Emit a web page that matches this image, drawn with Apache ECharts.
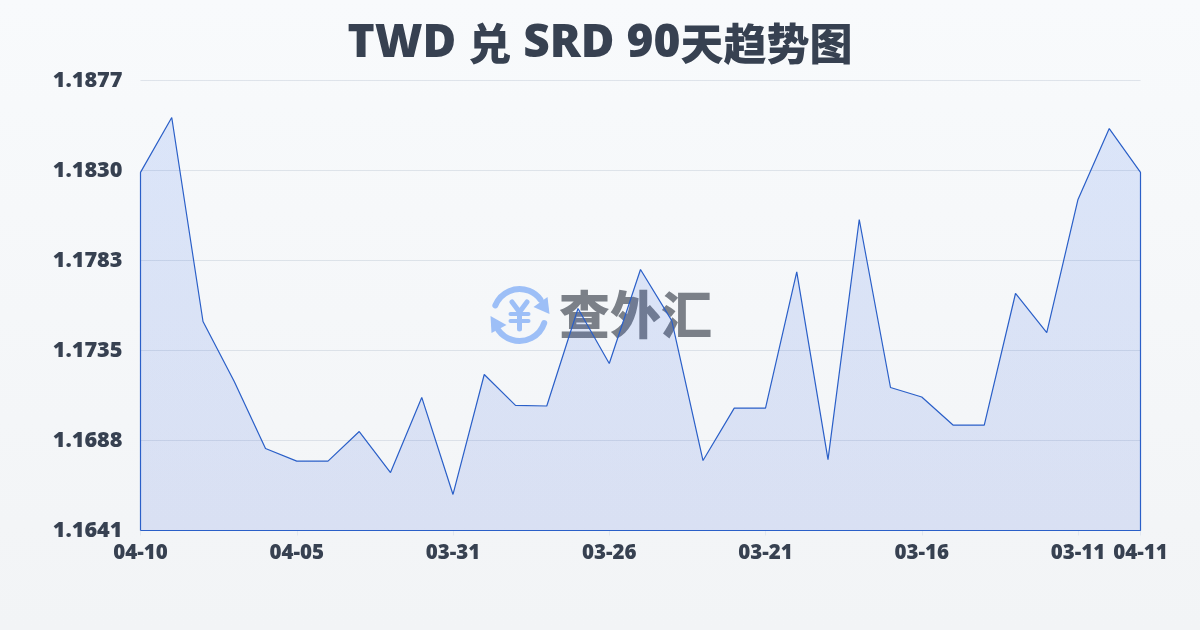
<!DOCTYPE html>
<html><head><meta charset="utf-8">
<style>html,body{margin:0;padding:0;width:1200px;height:630px;overflow:hidden}#c{width:1200px;height:630px}</style>
<script src="https://cdn.jsdelivr.net/npm/echarts@6/dist/echarts.min.js"></script></head>
<body><div id="c"></div><script>
const titleParts = [['a','TWD '],['b','兑'],['a',' SRD 90'],['b','天趋势图']];
const watermarkText = '查外汇';
const categories = ['04-10','04-09','04-08','04-07','04-06','04-05','04-04','04-03','04-02','04-01','03-31','03-30','03-29','03-28','03-27','03-26','03-25','03-24','03-23','03-22','03-21','03-20','03-19','03-18','03-17','03-16','03-15','03-14','03-13','03-12','03-11','03-10','04-11'];
const rates = [1.18288,1.18576,1.17506,1.17191,1.16840,1.16774,1.16774,1.16929,1.16714,1.17108,1.16599,1.17228,1.17066,1.17063,1.17574,1.17286,1.17779,1.17511,1.16777,1.17052,1.17052,1.17766,1.16782,1.18041,1.17160,1.17110,1.16963,1.16963,1.17653,1.17448,1.18146,1.18518,1.18288];
const yMin = 1.1641, yMax = 1.1877, yStep = 0.00472;
const labelIdx = [0,5,10,15,20,25,30,32];
const font = '"Open Sans","Noto Sans CJK SC",sans-serif';
const cjk = '"Noto Sans CJK SC",sans-serif';
const ink = '#374151';
const closed = [[0,yMin]].concat(rates.map((v,i)=>[i,v]),[[rates.length-1,yMin],[0,yMin]]);
const chart = echarts.init(document.getElementById('c'),null,{renderer:'canvas'});
const blue='#9dbff7';
chart.setOption({
  animation:false,
  backgroundColor:{type:'linear',x:0,y:0,x2:0,y2:1,colorStops:[{offset:0,color:'#f8fafc'},{offset:1,color:'#f2f4f6'}]},
  title:{text:titleParts.map(p=>'{'+p[0]+'|'+p[1]+'}').join(''),left:'center',top:16,textStyle:{rich:{
    a:{fontFamily:font,fontSize:46,fontWeight:800,color:ink},
    b:{fontFamily:cjk,fontSize:43,fontWeight:900,color:ink}}}},
  grid:{left:140.5,right:59.5,top:80.5,bottom:99.5},
  graphic:[
    {type:'group',x:519.5,y:315,z:0,silent:true,children:[
      {type:'arc',shape:{cx:0,cy:0,r:26,startAngle:Math.PI*1.12,endAngle:Math.PI*1.8},style:{fill:null,stroke:blue,lineWidth:6,lineCap:'round'}},
      {type:'arc',shape:{cx:0,cy:0,r:26,startAngle:Math.PI*0.1,endAngle:Math.PI*0.8},style:{fill:null,stroke:blue,lineWidth:6,lineCap:'round'}},
      {type:'polygon',shape:{points:[[28,-18],[30,-1],[14,-8]]},style:{fill:blue}},
      {type:'polygon',shape:{points:[[-29,1],[-13,10],[-28,18]]},style:{fill:blue}},
      {type:'polyline',shape:{points:[[-7.5,-13],[0,-3],[7.5,-13]]},style:{fill:null,stroke:blue,lineWidth:5,lineCap:'round'}},
      {type:'line',shape:{x1:0,y1:-3,x2:0,y2:14},style:{stroke:blue,lineWidth:5,lineCap:'round'}},
      {type:'line',shape:{x1:-9,y1:-1,x2:9,y2:-1},style:{stroke:blue,lineWidth:4,lineCap:'round'}},
      {type:'line',shape:{x1:-9,y1:6,x2:9,y2:6},style:{stroke:blue,lineWidth:4,lineCap:'round'}}
    ]},
    {type:'text',left:559,top:289,z:0,silent:true,style:{text:watermarkText,fontFamily:cjk,fontSize:51,fontWeight:900,fill:'#7b8088'}}
  ],
  xAxis:{type:'category',data:categories,boundaryGap:false,
    axisLine:{show:false},
    axisTick:{show:true,length:5,lineStyle:{color:'#e2e8f0'},alignWithLabel:true,interval:(i)=>labelIdx.includes(i)},
    axisLabel:{interval:(i)=>labelIdx.includes(i),fontFamily:font,fontSize:20.5,fontWeight:800,color:ink,margin:12,hideOverlap:false},
    splitLine:{show:false}},
  yAxis:{type:'value',min:yMin,max:yMax,interval:yStep,
    axisLine:{show:false},axisTick:{show:false},
    axisLabel:{fontFamily:font,fontSize:21.7,fontWeight:800,color:ink,margin:18,padding:[0,0,2,0],formatter:(v)=>v.toFixed(4)},
    splitLine:{lineStyle:{color:'rgba(148,163,184,0.25)',width:1}}},
  series:[{type:'line',data:closed,symbol:'none',smooth:false,clip:false,z:2,
    lineStyle:{color:'#2a5fc8',width:1.2},
    areaStyle:{origin:'start',color:{type:'linear',x:0,y:0,x2:0,y2:1,colorStops:[{offset:0,color:'rgba(37,99,235,0.19)'},{offset:1,color:'rgba(37,80,215,0.18)'}]}}}]
});
</script></body></html>
